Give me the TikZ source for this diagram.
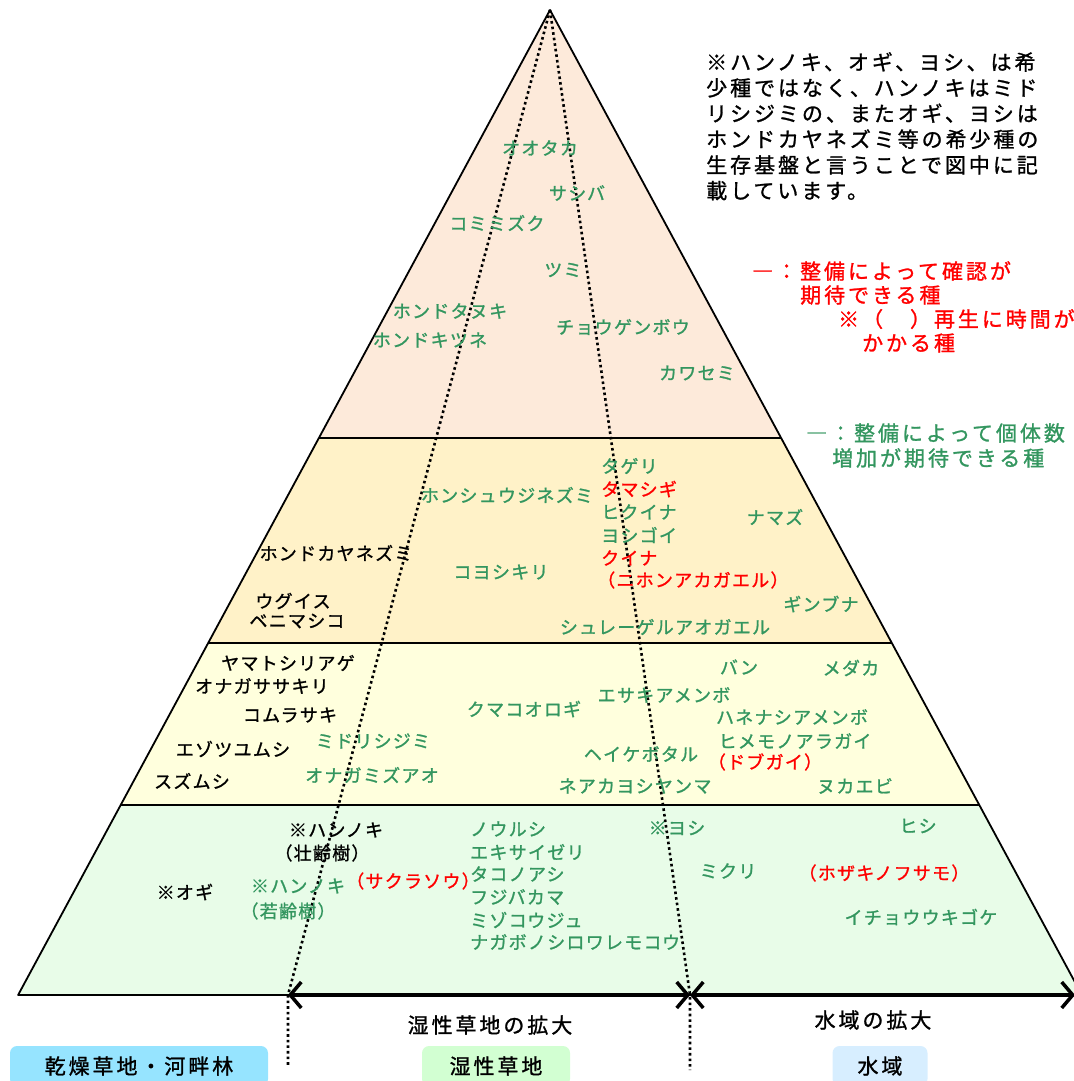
\documentclass[tikz,border=0pt]{standalone}
\usepackage{fontspec}
\usetikzlibrary{arrows.meta}
\newfontfamily\jpl[LetterSpace=7,FakeBold=1.2]{Noto Sans CJK JP}
\newfontfamily\jpw[LetterSpace=14,FakeBold=1.2]{Noto Sans CJK JP}
\definecolor{gtxt}{RGB}{51,150,95}
\definecolor{bandA}{RGB}{253,234,218}
\definecolor{bandB}{RGB}{255,242,200}
\definecolor{bandC}{RGB}{255,255,221}
\definecolor{bandD}{RGB}{232,252,232}
\definecolor{boxA}{RGB}{150,228,255}
\definecolor{boxB}{RGB}{210,255,210}
\definecolor{boxC}{RGB}{215,238,255}
\tikzset{
  lab/.style={font=\jpl\fontsize{18}{22}\selectfont, inner sep=0pt},
  gl/.style={lab, text=gtxt},
  rl/.style={lab, text=red},
  kl/.style={lab, text=black},
  wide/.style={font=\jpw\fontsize{21}{25.7}\selectfont, inner sep=0pt},
  edge/.style={draw=black, line width=1.8pt},
  dotline/.style={line width=2.6pt, dash pattern=on 2.6pt off 3pt},
  bigarrow/.style={line width=3.5pt, {Straight Barb[length=11pt,width=26pt]}-{Straight Barb[length=11pt,width=26pt]}},
  catbox/.style={wide, rounded corners=7pt, minimum height=40pt, text=black}
}
\begin{document}
\begin{tikzpicture}[x=1pt,y=-1pt]
\useasboundingbox (0,0) rectangle (1073,1081);
% bands
\fill[bandA] (550,10) -- (318.9,438) -- (781.1,438) -- cycle;
\fill[bandB] (318.9,438) -- (208.2,643) -- (891.8,643) -- (781.1,438) -- cycle;
\fill[bandC] (208.2,643) -- (120.7,805) -- (979.3,805) -- (891.8,643) -- cycle;
\fill[bandD] (120.7,805) -- (18.1,995) -- (1081.9,995) -- (979.3,805) -- cycle;
\draw[edge] (318.9,438) -- (781.1,438);
\draw[edge] (208.2,643) -- (891.8,643);
\draw[edge] (120.7,805) -- (979.3,805);
\draw[edge, line join=round] (1081.9,995) -- (550,10) -- (18.1,995) -- (1081.9,995);

\coordinate (apex) at (550,10);
\coordinate (a1) at (288,995);
\coordinate (a2) at (690,995);
\coordinate (a3) at (1075,995);
\coordinate (d1) at (288,1066);
\coordinate (d2) at (690,1070);
\draw[dotline] (apex) -- (a1) -- (d1);
\draw[dotline] (apex) -- (a2) -- (d2);
\draw[bigarrow] (a1) -- (a2);
\draw[bigarrow] (a2) -- (a3);

% note
\node[wide, anchor=north west, align=left] (note) at (706,52)
 {※ハンノキ、オギ、ヨシ、は希\\少種ではなく、ハンノキはミド\\リシジミの、またオギ、ヨシは\\ホンドカヤネズミ等の希少種の\\生存基盤と言うことで図中に記\\載しています。};
% legends
\node[wide, text=red, anchor=west] (lr1) at (752,271) {―：整備によって確認が};
\node[wide, text=red, anchor=west] (lr2) at (800,295) {期待できる種};
\node[wide, text=red, anchor=west] (lr3) at (838,319) {※（　）再生に時間が};
\node[wide, text=red, anchor=west] (lr4) at (862,343) {かかる種};
\node[wide, text=gtxt, anchor=west] (lg1) at (806,433) {―：整備によって個体数};
\node[wide, text=gtxt, anchor=west] (lg2) at (832,458) {増加が期待できる種};

% band A
\node[gl] (n1) at (540,148) {オオタカ};
\node[gl] (n2) at (577,193) {サシバ};
\node[gl] (n3) at (497,223) {コミミズク};
\node[gl] (n4) at (563,270) {ツミ};
\node[gl] (n5) at (450,311) {ホンドタヌキ};
\node[gl] (n6) at (430,340) {ホンドキツネ};
\node[gl] (n7) at (623,327) {チョウゲンボウ};
\node[gl] (n8) at (697,373) {カワセミ};

% band B
\node[gl, anchor=west] (b1) at (601,466) {タゲリ};
\node[rl, anchor=west] (b2) at (601,489) {タマシギ};
\node[gl, anchor=west] (b3) at (601,512) {ヒクイナ};
\node[gl, anchor=west] (b4) at (601,535) {ヨシゴイ};
\node[rl, anchor=west] (b5) at (601,558) {クイナ};
\node[rl, anchor=west] (b6) at (597,580) {（ニホンアカガエル）};
\node[gl] (b7) at (507,495) {ホンシュウジネズミ};
\node[gl] (b8) at (775,517) {ナマズ};
\node[kl] (b9) at (336,553) {ホンドカヤネズミ};
\node[gl] (b10) at (501,572) {コヨシキリ};
\node[kl] (b11) at (293,601) {ウグイス};
\node[kl] (b12) at (297,621) {ベニマシコ};
\node[gl] (b13) at (821,604) {ギンブナ};
\node[gl] (b14) at (665,627) {シュレーゲルアオガエル};

% band C
\node[kl] (c1) at (288,663) {ヤマトシリアゲ};
\node[kl] (c2) at (262,686) {オナガササキリ};
\node[kl] (c3) at (290,715) {コムラサキ};
\node[kl] (c4) at (233,749) {エゾツユムシ};
\node[kl] (c5) at (192,781) {スズムシ};
\node[gl] (c6) at (373,741) {ミドリシジミ};
\node[gl] (c7) at (372,775) {オナガミズアオ};
\node[gl] (c8) at (524,709) {クマコオロギ};
\node[gl] (c9) at (739,667) {バン};
\node[gl] (c10) at (851,668) {メダカ};
\node[gl] (c11) at (664,695) {エサキアメンボ};
\node[gl] (c12) at (792,717) {ハネナシアメンボ};
\node[gl] (c13) at (795,741) {ヒメモノアラガイ};
\node[rl] (c14) at (765,762) {（ドブガイ）};
\node[gl] (c15) at (641,754) {ヘイケボタル};
\node[gl] (c16) at (635,786) {ネアカヨシヤンマ};
\node[gl] (c17) at (855,786) {ヌカエビ};

% band D
\node[kl] (d3) at (336,830) {※ハンノキ};
\node[kl] (d4) at (322,853) {（壮齢樹）};
\node[kl] (d5) at (185,892) {※オギ};
\node[gl] (d6) at (298,886) {※ハンノキ};
\node[gl] (d7) at (288,911) {（若齢樹）};
\node[rl] (d8) at (413,881) {（サクラソウ）};
\node[gl, anchor=west] (e1) at (470,829) {ノウルシ};
\node[gl, anchor=west] (e2) at (470,852) {エキサイゼリ};
\node[gl, anchor=west] (e3) at (470,874) {タコノアシ};
\node[gl, anchor=west] (e4) at (470,897) {フジバカマ};
\node[gl, anchor=west] (e5) at (470,920) {ミゾコウジュ};
\node[gl, anchor=west] (e6) at (470,942) {ナガボノシロワレモコウ};
\node[gl] (f1) at (677,828) {※ヨシ};
\node[gl] (f2) at (728,871) {ミクリ};
\node[gl] (f3) at (918,826) {ヒシ};
\node[rl] (f4) at (884,873) {（ホザキノフサモ）};
\node[gl] (f5) at (921,917) {イチョウウキゴケ};

% bottom labels
\node[wide] (w1) at (490,1025) {湿性草地の拡大};
\node[wide] (w2) at (873,1020) {水域の拡大};
\node[catbox, fill=boxA, minimum width=258pt] (k1) at (139,1066) {乾燥草地・河畔林};
\node[catbox, fill=boxB, minimum width=148pt] (k2) at (496,1066) {湿性草地};
\node[catbox, fill=boxC, minimum width=95pt] (k3) at (880,1066) {水域};
\end{tikzpicture}
\end{document}
